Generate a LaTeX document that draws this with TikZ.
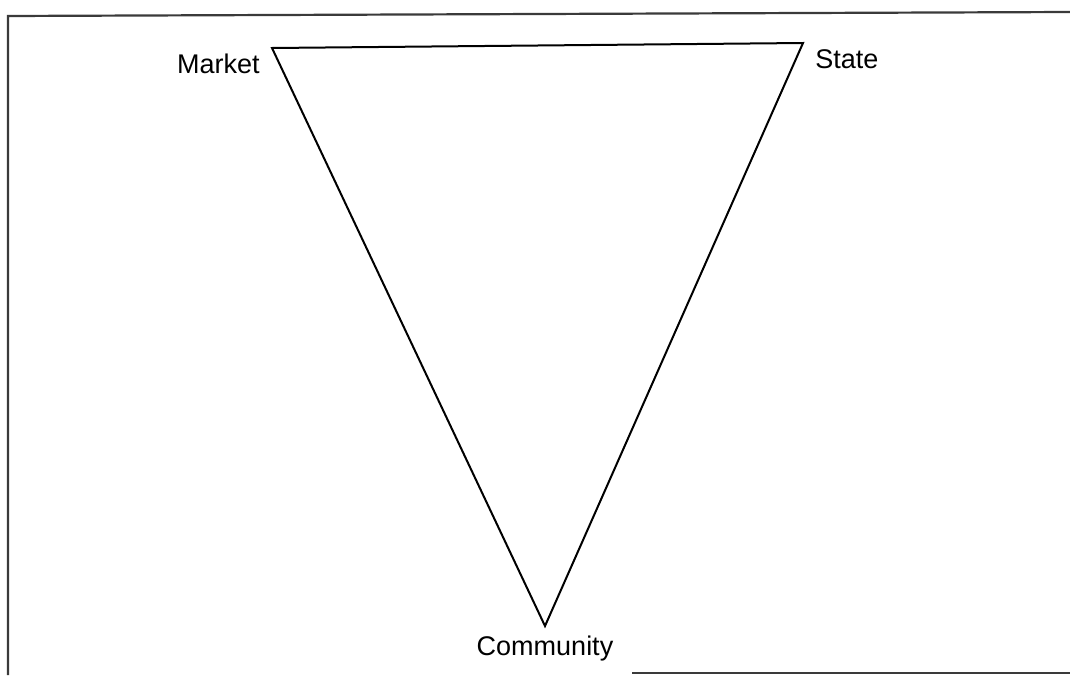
\documentclass[tikz,border=0pt]{standalone}
\usepackage{fontspec}
\setmainfont{Liberation Sans}
\usepackage{xcolor}
\usepackage{tikz}
\usetikzlibrary{positioning}
\definecolor{frameline}{HTML}{3A3A3A}

\tikzset{
    vertexlabel/.style={font=\fontsize{13.5}{16}\selectfont, inner sep=0pt, text=black},
    sideline/.style={draw=black, line width=1pt, line join=miter}
}

\begin{document}
\begin{tikzpicture}[x=0.5pt, y=-0.5pt]
    \useasboundingbox (0, 0) rectangle (1070, 675);

    % Frame (partly cut off)
    \draw[frameline, line width=1.1pt] (8, 675) -- (8, 16) -- (1070, 12);
    \draw[frameline, line width=1.1pt] (632, 673) -- (1070, 673);

    % Corners of the triangle
    \coordinate (market) at (272, 48);
    \coordinate (state) at (803, 43);
    \coordinate (community) at (545, 626);

    \draw[sideline] (market) -- (state) -- (community) -- cycle;

    % Labels
    \node[vertexlabel, left=6pt of market, yshift=-8pt] (marketlabel) {Market};
    \node[vertexlabel, right=6pt of state, yshift=-8pt] (statelabel) {State};
    \node[vertexlabel, below=5pt of community] (communitylabel) {Community};
\end{tikzpicture}
\end{document}
